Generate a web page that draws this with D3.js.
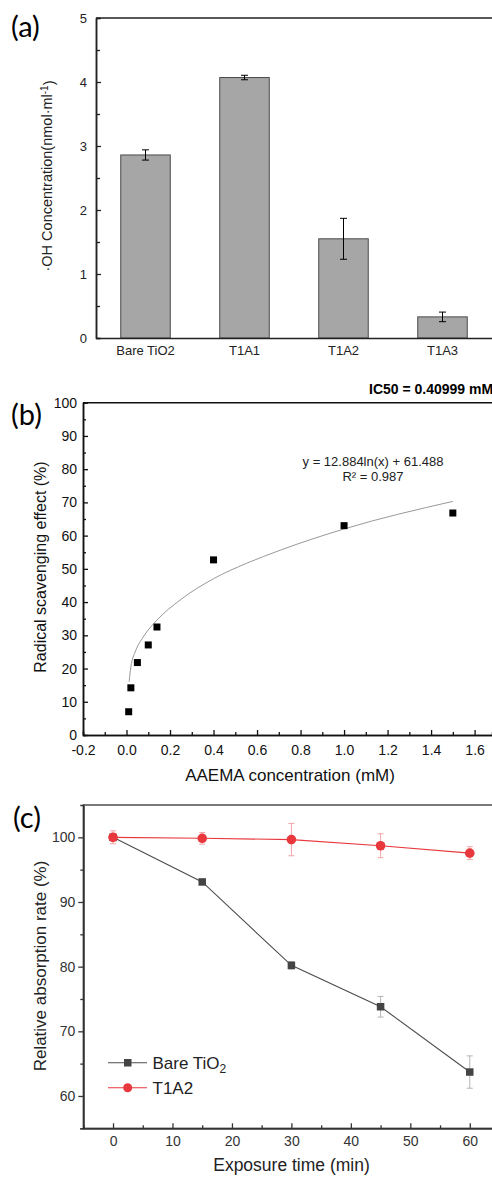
<!DOCTYPE html>
<html>
<head>
<meta charset="utf-8">
<script src="https://cdn.jsdelivr.net/npm/d3@7"></script>
<style>
  body { margin: 0; background: #fff; }
  text { font-family: "Liberation Sans", Arial, sans-serif; }
  .panel-tag { font-family: Lato, "Open Sans", sans-serif; font-size: 29px; fill: #000; }
</style>
</head>
<body>
<div id="chart"></div>
<script>
// (a) OH concentration bars
var barCats = ["Bare TiO2", "T1A1", "T1A2", "T1A3"];
var barVals = [2.86, 4.07, 1.55, 0.33];
var barErrs = [0.08, 0.035, 0.32, 0.075];

// (b) scavenging points + drawn trend curve
var scavX = [0.01, 0.02, 0.05, 0.1, 0.14, 0.4, 1.0, 1.5];
var scavY = [7.0, 14.2, 21.8, 27.1, 32.5, 52.7, 63.0, 66.8];
var fitX = [0.012, 0.02, 0.04, 0.077, 0.139, 0.246, 0.399, 0.553, 0.706, 1.0, 1.5];
var fitY = [16.0, 20.5, 25.0, 29.5, 34.5, 40.6, 47.0, 51.7, 55.6, 62.0, 70.3];

// (c) relative absorption over time
var timeX = [0, 15, 30, 45, 60];
var bareY = [100, 93.1, 80.2, 73.8, 63.7];
var bareErr = [0.5, 0.3, 0.6, 1.6, 2.5];
var t1a2Y = [100, 99.85, 99.65, 98.7, 97.55];
var t1a2Err = [1.0, 0.9, 2.5, 1.85, 1.0];

var width = 492, height = 1177;

var svg = d3.select("#chart").append("svg")
    .attr("width", width)
    .attr("height", height);

svg.append("rect").attr("width", width).attr("height", height).attr("fill", "#fff");

// ---------- panel (a) ----------
var gA = svg.append("g");
var xA = d3.scaleBand().domain(barCats).range([96, 492]).paddingInner(0.5).paddingOuter(0.25);
var yA = d3.scaleLinear().domain([0, 5]).range([338, 18]);

gA.selectAll(".bar")
    .data(barCats)
  .enter().append("rect")
    .attr("class", "bar")
    .attr("x", function(d) { return xA(d); })
    .attr("y", function(d, i) { return yA(barVals[i]); })
    .attr("width", xA.bandwidth())
    .attr("height", function(d, i) { return yA(0) - yA(barVals[i]); })
    .attr("fill", "#a6a6a6")
    .attr("stroke", "#4a4a4a")
    .attr("stroke-width", 1);

var errA = gA.selectAll(".err")
    .data(barCats)
  .enter().append("g")
    .attr("stroke", "#000")
    .attr("stroke-width", 1);
errA.append("line")
    .attr("x1", function(d) { return xA(d) + xA.bandwidth() / 2; })
    .attr("x2", function(d) { return xA(d) + xA.bandwidth() / 2; })
    .attr("y1", function(d, i) { return yA(barVals[i] + barErrs[i]); })
    .attr("y2", function(d, i) { return yA(barVals[i] - barErrs[i]); });
[1, -1].forEach(function(s) {
  errA.append("line")
      .attr("x1", function(d) { return xA(d) + xA.bandwidth() / 2 - 3.5; })
      .attr("x2", function(d) { return xA(d) + xA.bandwidth() / 2 + 3.5; })
      .attr("y1", function(d, i) { return yA(barVals[i] + s * barErrs[i]); })
      .attr("y2", function(d, i) { return yA(barVals[i] + s * barErrs[i]); });
});

gA.append("g")
    .attr("transform", "translate(96,0)")
    .call(d3.axisLeft(yA).tickValues([0, 1, 2, 3, 4, 5]).tickSizeInner(-5).tickSizeOuter(0).tickPadding(9).tickFormat(d3.format("d")))
    .call(styleAxis, 13, "#222");
gA.append("g")
    .attr("transform", "translate(96,0)")
    .call(d3.axisLeft(yA).tickValues([0.5, 1.5, 2.5, 3.5, 4.5]).tickSize(-4).tickFormat(""))
    .call(styleAxis, 13, "#222");
gA.append("g")
    .attr("transform", "translate(0,338)")
    .call(d3.axisBottom(xA).tickSize(0).tickPadding(8))
    .call(styleAxis, 13, "#222");
gA.append("line").attr("x1", 96).attr("x2", 492).attr("y1", 18).attr("y2", 18)
    .attr("stroke", "#222").attr("stroke-width", 1.3);

gA.append("text")
    .attr("transform", "translate(52,176) rotate(-90)")
    .attr("text-anchor", "middle")
    .attr("font-size", "14.5px")
    .attr("fill", "#222")
    .text("·OH Concentration(nmol·ml")
  .append("tspan").attr("dy", "-0.45em").attr("font-size", "10px").text("-1")
  .select(function() { return this.parentNode; })
  .append("tspan").attr("dy", "0.45em").text(")");

svg.append("text").attr("class", "panel-tag").attr("x", 11).attr("y", 37).text("(a)");

// ---------- panel (b) ----------
var gB = svg.append("g");
var xB = d3.scaleLinear().domain([-0.2, 1.68]).range([83, 492]);
var yB = d3.scaleLinear().domain([0, 100]).range([735, 402.7]);

gB.append("path")
    .datum(fitX.map(function(d, i) { return [d, fitY[i]]; }))
    .attr("fill", "none")
    .attr("stroke", "#999")
    .attr("stroke-width", 1)
    .attr("d", d3.line()
        .x(function(d) { return xB(d[0]); })
        .y(function(d) { return yB(d[1]); })
        .curve(d3.curveMonotoneX));

gB.selectAll(".pt")
    .data(scavX)
  .enter().append("rect")
    .attr("x", function(d) { return xB(d) - 3.5; })
    .attr("y", function(d, i) { return yB(scavY[i]) - 3.5; })
    .attr("width", 7)
    .attr("height", 7)
    .attr("fill", "#000");

gB.append("g")
    .attr("transform", "translate(83,0)")
    .call(d3.axisLeft(yB).tickValues(d3.range(0, 101, 10)).tickSizeInner(-5).tickSizeOuter(0).tickPadding(6))
    .call(styleAxis, 14, "#111");
gB.append("g")
    .attr("transform", "translate(83,0)")
    .call(d3.axisLeft(yB).tickValues(d3.range(5, 100, 10)).tickSize(-3).tickFormat(""))
    .call(styleAxis, 14, "#111");
gB.append("g")
    .attr("transform", "translate(0,735)")
    .call(d3.axisBottom(xB).tickValues([-0.2, 0, 0.2, 0.4, 0.6, 0.8, 1.0, 1.2, 1.4, 1.6]).tickSizeInner(-5).tickSizeOuter(0).tickPadding(10)
        .tickFormat(function(d) { return d.toFixed(1); }))
    .call(styleAxis, 14, "#111");
gB.append("g")
    .attr("transform", "translate(0,735)")
    .call(d3.axisBottom(xB).tickValues([-0.1, 0.1, 0.3, 0.5, 0.7, 0.9, 1.1, 1.3, 1.5]).tickSize(-3).tickFormat(""))
    .call(styleAxis, 14, "#111");
gB.append("line").attr("x1", 83).attr("x2", 492).attr("y1", 402.7).attr("y2", 402.7)
    .attr("stroke", "#111").attr("stroke-width", 1.6);

gB.append("text")
    .attr("x", 369).attr("y", 394)
    .attr("font-size", "14px").attr("font-weight", "bold").attr("fill", "#000")
    .text("IC50 = 0.40999 mM");
gB.append("text")
    .attr("x", 373).attr("y", 466)
    .attr("text-anchor", "middle").attr("font-size", "13px").attr("fill", "#222")
    .text("y = 12.884ln(x) + 61.488");
gB.append("text")
    .attr("x", 373).attr("y", 481)
    .attr("text-anchor", "middle").attr("font-size", "13px").attr("fill", "#222")
    .text("R² = 0.987");

gB.append("text")
    .attr("transform", "translate(46,567) rotate(-90)")
    .attr("text-anchor", "middle").attr("font-size", "16px").attr("fill", "#111")
    .text("Radical scavenging effect (%)");
gB.append("text")
    .attr("x", 290).attr("y", 781)
    .attr("text-anchor", "middle").attr("font-size", "17px").attr("fill", "#111")
    .text("AAEMA concentration (mM)");

svg.append("text").attr("class", "panel-tag").attr("x", 11).attr("y", 425).text("(b)");

// ---------- panel (c) ----------
var gC = svg.append("g");
var xC = d3.scaleLinear().domain([-5, 65]).range([83.3, 499.5]);
var yC = d3.scaleLinear().domain([55, 105]).range([1128.3, 805]);

gC.append("rect")
    .attr("x", 83.3).attr("y", 805)
    .attr("width", 499.5 - 83.3).attr("height", 1128.3 - 805)
    .attr("fill", "none").attr("stroke", "#333").attr("stroke-width", 1.3);

gC.append("g")
    .attr("transform", "translate(83.3,0)")
    .call(d3.axisLeft(yC).tickValues([60, 70, 80, 90, 100]).tickSizeInner(5).tickSizeOuter(0).tickPadding(3))
    .call(styleAxis, 14, "#333");
gC.append("g")
    .attr("transform", "translate(83.3,0)")
    .call(d3.axisLeft(yC).tickValues([55, 65, 75, 85, 95]).tickSize(3).tickFormat(""))
    .call(styleAxis, 14, "#333");
gC.append("g")
    .attr("transform", "translate(0,1128.3)")
    .call(d3.axisBottom(xC).tickValues([0, 10, 20, 30, 40, 50, 60]).tickSizeInner(-5).tickSizeOuter(0).tickPadding(8))
    .call(styleAxis, 14, "#333");
gC.append("g")
    .attr("transform", "translate(0,1128.3)")
    .call(d3.axisBottom(xC).tickValues([5, 15, 25, 35, 45, 55]).tickSize(-3).tickFormat(""))
    .call(styleAxis, 14, "#333");

function drawErr(g, ys, errs, color) {
  timeX.forEach(function(t, i) {
    var x = xC(t), y1 = yC(ys[i] + errs[i]), y2 = yC(ys[i] - errs[i]);
    g.append("line").attr("x1", x).attr("x2", x).attr("y1", y1).attr("y2", y2);
    g.append("line").attr("x1", x - 3).attr("x2", x + 3).attr("y1", y1).attr("y2", y1);
    g.append("line").attr("x1", x - 3).attr("x2", x + 3).attr("y1", y2).attr("y2", y2);
  });
  g.attr("stroke", color).attr("stroke-width", 1);
}

var lineC = d3.line()
    .x(function(d) { return xC(d[0]); })
    .y(function(d) { return yC(d[1]); });

drawErr(gC.append("g"), bareY, bareErr, "#b5b5b5");
drawErr(gC.append("g"), t1a2Y, t1a2Err, "#f3a5a8");

gC.append("path")
    .datum(timeX.map(function(d, i) { return [d, bareY[i]]; }))
    .attr("fill", "none").attr("stroke", "#4d4d4d").attr("stroke-width", 1.1)
    .attr("d", lineC);
gC.append("path")
    .datum(timeX.map(function(d, i) { return [d, t1a2Y[i]]; }))
    .attr("fill", "none").attr("stroke", "#e8383d").attr("stroke-width", 1.1)
    .attr("d", lineC);

gC.selectAll(".sq")
    .data(timeX)
  .enter().append("rect")
    .attr("x", function(d) { return xC(d) - 3.75; })
    .attr("y", function(d, i) { return yC(bareY[i]) - 3.75; })
    .attr("width", 7.5).attr("height", 7.5)
    .attr("fill", "#444");
gC.selectAll(".dot")
    .data(timeX)
  .enter().append("circle")
    .attr("cx", function(d) { return xC(d); })
    .attr("cy", function(d, i) { return yC(t1a2Y[i]); })
    .attr("r", 4.8)
    .attr("fill", "#e8383d");

// legend
var leg = gC.append("g");
leg.append("line").attr("x1", 108).attr("x2", 147).attr("y1", 1062.7).attr("y2", 1062.7)
    .attr("stroke", "#4d4d4d").attr("stroke-width", 1.1);
leg.append("rect").attr("x", 124).attr("y", 1059).attr("width", 7.5).attr("height", 7.5).attr("fill", "#444");
leg.append("line").attr("x1", 108).attr("x2", 147).attr("y1", 1087.7).attr("y2", 1087.7)
    .attr("stroke", "#e8383d").attr("stroke-width", 1.1);
leg.append("circle").attr("cx", 127.7).attr("cy", 1087.7).attr("r", 4.5).attr("fill", "#e8383d");
leg.append("text").attr("x", 152.5).attr("y", 1069).attr("font-size", "17px").attr("fill", "#222")
    .text("Bare TiO")
  .append("tspan").attr("dy", "0.3em").attr("font-size", "12px").text("2");
leg.append("text").attr("x", 152.5).attr("y", 1094).attr("font-size", "17px").attr("fill", "#222")
    .text("T1A2");

gC.append("text")
    .attr("transform", "translate(46,966) rotate(-90)")
    .attr("text-anchor", "middle").attr("font-size", "17px").attr("fill", "#222")
    .text("Relative absorption rate (%)");
gC.append("text")
    .attr("x", 291.5).attr("y", 1171)
    .attr("text-anchor", "middle").attr("font-size", "17.5px").attr("fill", "#222")
    .text("Exposure time (min)");

svg.append("text").attr("class", "panel-tag").attr("x", 13).attr("y", 828).text("(c)");

function styleAxis(sel, size, color) {
  sel.select(".domain").attr("stroke", color).attr("stroke-width", 1.5);
  sel.selectAll(".tick line").attr("stroke", color).attr("stroke-width", 1.3);
  sel.selectAll(".tick text")
      .attr("fill", color)
      .attr("font-size", size + "px")
      .attr("font-family", "Liberation Sans, Arial, sans-serif");
}
</script>
</body>
</html>
